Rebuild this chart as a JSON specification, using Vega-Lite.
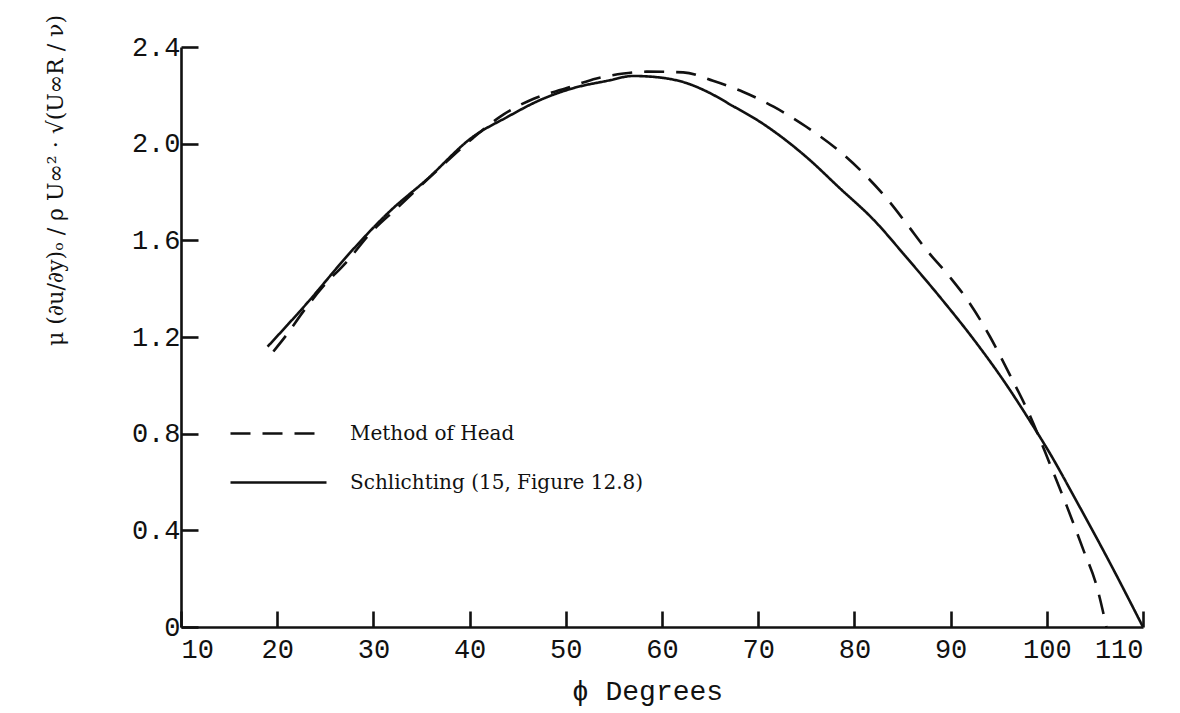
{
  "$schema": "https://vega.github.io/schema/vega-lite/v6.json",
  "width": 962,
  "height": 580,
  "autosize": {"type": "none"},
  "padding": {"left": 181, "top": 47, "right": 37, "bottom": 86},
  "background": "white",
  "config": {
    "view": {"stroke": null},
    "axis": {
      "domainColor": "#111111",
      "domainWidth": 2.6,
      "tickColor": "#111111",
      "tickWidth": 2.6,
      "grid": false,
      "labelColor": "#111111",
      "titleColor": "#111111"
    }
  },
  "data": {
    "values": [
      {"phi": 19.6, "tau": 1.14, "method": "Method of Head"},
      {"phi": 21.0, "tau": 1.21, "method": "Method of Head"},
      {"phi": 22.7, "tau": 1.305, "method": "Method of Head"},
      {"phi": 24.8, "tau": 1.41, "method": "Method of Head"},
      {"phi": 27.2, "tau": 1.51, "method": "Method of Head"},
      {"phi": 29.7, "tau": 1.63, "method": "Method of Head"},
      {"phi": 32.5, "tau": 1.735, "method": "Method of Head"},
      {"phi": 36.5, "tau": 1.885, "method": "Method of Head"},
      {"phi": 40.4, "tau": 2.025, "method": "Method of Head"},
      {"phi": 43.5, "tau": 2.12, "method": "Method of Head"},
      {"phi": 46.6, "tau": 2.185, "method": "Method of Head"},
      {"phi": 50.1, "tau": 2.23, "method": "Method of Head"},
      {"phi": 53.2, "tau": 2.27, "method": "Method of Head"},
      {"phi": 56.0, "tau": 2.29, "method": "Method of Head"},
      {"phi": 58.4, "tau": 2.298, "method": "Method of Head"},
      {"phi": 62.2, "tau": 2.295, "method": "Method of Head"},
      {"phi": 65.3, "tau": 2.26, "method": "Method of Head"},
      {"phi": 68.4, "tau": 2.215, "method": "Method of Head"},
      {"phi": 71.6, "tau": 2.153, "method": "Method of Head"},
      {"phi": 75.0, "tau": 2.07, "method": "Method of Head"},
      {"phi": 78.5, "tau": 1.967, "method": "Method of Head"},
      {"phi": 81.3, "tau": 1.863, "method": "Method of Head"},
      {"phi": 83.7, "tau": 1.757, "method": "Method of Head"},
      {"phi": 85.4, "tau": 1.67, "method": "Method of Head"},
      {"phi": 87.5, "tau": 1.56, "method": "Method of Head"},
      {"phi": 89.9, "tau": 1.449, "method": "Method of Head"},
      {"phi": 92.0, "tau": 1.339, "method": "Method of Head"},
      {"phi": 94.1, "tau": 1.201, "method": "Method of Head"},
      {"phi": 96.2, "tau": 1.04, "method": "Method of Head"},
      {"phi": 98.3, "tau": 0.87, "method": "Method of Head"},
      {"phi": 100.3, "tau": 0.677, "method": "Method of Head"},
      {"phi": 102.1, "tau": 0.498, "method": "Method of Head"},
      {"phi": 103.8, "tau": 0.319, "method": "Method of Head"},
      {"phi": 105.2, "tau": 0.167, "method": "Method of Head"},
      {"phi": 106.2, "tau": 0.0, "method": "Method of Head"},
      {"phi": 19.0, "tau": 1.16, "method": "Schlichting (15, Figure 12.8)"},
      {"phi": 23.1, "tau": 1.34, "method": "Schlichting (15, Figure 12.8)"},
      {"phi": 27.6, "tau": 1.55, "method": "Schlichting (15, Figure 12.8)"},
      {"phi": 31.7, "tau": 1.72, "method": "Schlichting (15, Figure 12.8)"},
      {"phi": 35.5, "tau": 1.85, "method": "Schlichting (15, Figure 12.8)"},
      {"phi": 40.4, "tau": 2.03, "method": "Schlichting (15, Figure 12.8)"},
      {"phi": 43.9, "tau": 2.11, "method": "Schlichting (15, Figure 12.8)"},
      {"phi": 47.3, "tau": 2.18, "method": "Schlichting (15, Figure 12.8)"},
      {"phi": 50.8, "tau": 2.23, "method": "Schlichting (15, Figure 12.8)"},
      {"phi": 54.3, "tau": 2.26, "method": "Schlichting (15, Figure 12.8)"},
      {"phi": 57.0, "tau": 2.28, "method": "Schlichting (15, Figure 12.8)"},
      {"phi": 59.5, "tau": 2.275, "method": "Schlichting (15, Figure 12.8)"},
      {"phi": 62.6, "tau": 2.25, "method": "Schlichting (15, Figure 12.8)"},
      {"phi": 64.7, "tau": 2.215, "method": "Schlichting (15, Figure 12.8)"},
      {"phi": 67.4, "tau": 2.155, "method": "Schlichting (15, Figure 12.8)"},
      {"phi": 70.2, "tau": 2.09, "method": "Schlichting (15, Figure 12.8)"},
      {"phi": 75.0, "tau": 1.945, "method": "Schlichting (15, Figure 12.8)"},
      {"phi": 78.5, "tau": 1.815, "method": "Schlichting (15, Figure 12.8)"},
      {"phi": 82.0, "tau": 1.685, "method": "Schlichting (15, Figure 12.8)"},
      {"phi": 85.4, "tau": 1.53, "method": "Schlichting (15, Figure 12.8)"},
      {"phi": 88.9, "tau": 1.365, "method": "Schlichting (15, Figure 12.8)"},
      {"phi": 92.4, "tau": 1.19, "method": "Schlichting (15, Figure 12.8)"},
      {"phi": 95.5, "tau": 1.02, "method": "Schlichting (15, Figure 12.8)"},
      {"phi": 98.6, "tau": 0.83, "method": "Schlichting (15, Figure 12.8)"},
      {"phi": 100.3, "tau": 0.72, "method": "Schlichting (15, Figure 12.8)"},
      {"phi": 103.1, "tau": 0.52, "method": "Schlichting (15, Figure 12.8)"},
      {"phi": 106.5, "tau": 0.27, "method": "Schlichting (15, Figure 12.8)"},
      {"phi": 110.0, "tau": 0.0, "method": "Schlichting (15, Figure 12.8)"}
    ]
  },
  "mark": {"type": "line", "color": "#111111", "strokeWidth": 2.6, "interpolate": "monotone", "clip": false},
  "encoding": {
    "x": {
      "field": "phi",
      "type": "quantitative",
      "scale": {"domain": [10, 110], "nice": false, "zero": false},
      "axis": {
        "values": [10, 20, 30, 40, 50, 60, 70, 80, 90, 100, 110],
        "tickSize": -16,
        "labelPadding": 25,
        "labelFont": "Liberation Mono",
        "labelFontSize": 27,
        "labelBaseline": "top",
        "title": "ϕ Degrees",
        "titleFont": "Liberation Mono",
        "titleFontSize": 28,
        "titleFontWeight": "normal",
        "titleX": 466,
        "titleY": 64,
        "titleBaseline": "middle",
        "titleAlign": "center"
      }
    },
    "y": {
      "field": "tau",
      "type": "quantitative",
      "scale": {"domain": [0, 2.4], "nice": false},
      "axis": {
        "values": [0, 0.4, 0.8, 1.2, 1.6, 2.0, 2.4],
        "tickSize": -17,
        "labelPadding": 18,
        "labelFont": "Liberation Mono",
        "labelFontSize": 27,
        "labelExpr": "datum.value == 0 ? '0' : format(datum.value, '.1f')",
        "title": "μ (∂u/∂y)ₒ / ρ U∞²  ·  √(U∞R / ν)",
        "titleFont": "DejaVu Serif",
        "titleFontSize": 22,
        "titleFontWeight": "normal",
        "titleAngle": -90,
        "titleX": -126,
        "titleY": 133,
        "titleAlign": "center",
        "titleBaseline": "middle"
      }
    },
    "strokeDash": {
      "field": "method",
      "type": "nominal",
      "scale": {
        "domain": ["Method of Head", "Schlichting (15, Figure 12.8)"],
        "range": [[20, 12], [1, 0]]
      },
      "legend": {
        "title": null,
        "orient": "none",
        "legendX": 84,
        "legendY": 373,
        "padding": 0,
        "symbolType": "M-4,0H4",
        "symbolSize": 576,
        "symbolStrokeWidth": 2.6,
        "symbolStrokeColor": "#111111",
        "rowPadding": 25,
        "labelOffset": 58,
        "labelFont": "DejaVu Serif",
        "labelFontSize": 20,
        "labelColor": "#111111",
        "labelLimit": 500
      }
    }
  }
}
